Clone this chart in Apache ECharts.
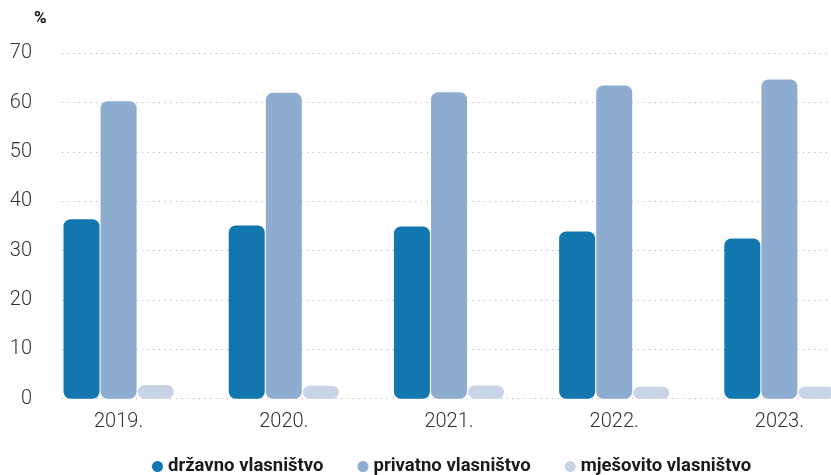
<!DOCTYPE html>
<html>
<head>
<meta charset="utf-8">
<script src="https://cdn.jsdelivr.net/npm/echarts@6/dist/echarts.min.js"></script>
<style>
html,body{margin:0;padding:0;background:#fff;overflow:hidden;width:831px;height:475px;}
#c{width:862px;height:475px;}
</style>
</head>
<body>
<div id="c"></div>
<script>
const categories = ['2019.', '2020.', '2021.', '2022.', '2023.'];
const drzavno = [36.4, 35.1, 34.9, 33.9, 32.5];
const privatno = [60.3, 62.0, 62.1, 63.5, 64.7];
const mjesovito = [2.8, 2.6, 2.7, 2.4, 2.4];
const seriesNames = ['državno vlasništvo', 'privatno vlasništvo', 'mješovito vlasništvo'];
const colors = ['#1277AE', '#8EACCF', '#C8D3E6'];

const chart = echarts.init(document.getElementById('c'), null, {renderer: 'canvas'});
const font = 'Roboto, "Noto Sans", sans-serif';
function bar(name, data, color) {
  return {
    name: name, type: 'bar', data: data,
    xAxisIndex: 1, yAxisIndex: 1,
    barWidth: 36, barGap: '3%',
    itemStyle: {color: color, borderRadius: 7},
    emphasis: {disabled: true}
  };
}
chart.setOption({
  animation: false,
  color: colors,
  textStyle: {fontFamily: font},
  graphic: [{
    type: 'text', left: 34, top: 10,
    style: {text: '%', fontSize: 17, fontWeight: 'bold', fill: '#111', fontFamily: font}
  }],
  legend: {
    left: 147, top: 452,
    icon: 'circle', itemWidth: 11, itemHeight: 11, itemGap: 34,
    textStyle: {fontSize: 18.5, fontWeight: 'bold', color: '#1a1a1a', fontFamily: font},
    data: seriesNames
  },
  grid: [
    {left: 62, right: 31, top: 53.4, bottom: 76.3},
    {left: 36, right: 0, top: 53.4, bottom: 76.3}
  ],
  xAxis: [
    {gridIndex: 0, type: 'value', show: false, min: 0, max: 1},
    {gridIndex: 1, type: 'category', data: categories,
     axisLine: {show: false}, axisTick: {show: false},
     axisLabel: {fontSize: 20, fontWeight: 300, color: '#333', margin: 13, fontFamily: font}}
  ],
  yAxis: [
    {gridIndex: 0, type: 'value', min: 0, max: 70, interval: 10,
     axisLine: {show: false}, axisTick: {show: false},
     axisLabel: {fontSize: 20, fontWeight: 300, color: '#333', margin: 30, fontFamily: font},
     splitLine: {lineStyle: {color: '#a8a8a8', width: 1, type: [1, 4.7]}}},
    {gridIndex: 1, type: 'value', min: 0, max: 70, interval: 10, show: false, splitLine: {show: false}}
  ],
  series: [
    bar(seriesNames[0], drzavno, colors[0]),
    bar(seriesNames[1], privatno, colors[1]),
    bar(seriesNames[2], mjesovito, colors[2])
  ]
});
</script>
</body>
</html>
